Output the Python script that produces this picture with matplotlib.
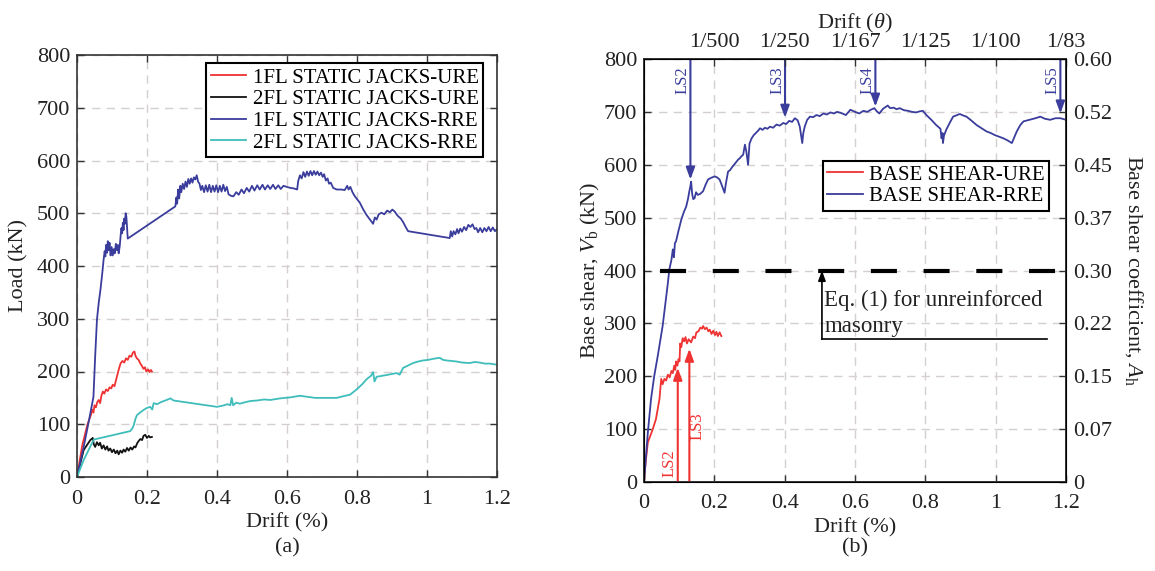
import matplotlib
matplotlib.use('Agg')
import matplotlib.pyplot as plt

plt.rcParams['font.family'] = ['Liberation Serif', 'DejaVu Serif']
plt.rcParams['mathtext.fontset'] = 'custom'
plt.rcParams['mathtext.rm'] = 'Liberation Serif'
plt.rcParams['mathtext.it'] = 'Liberation Serif:italic'
plt.rcParams['mathtext.bf'] = 'Liberation Serif:bold'

# ---------------- data: panel (a) ----------------
jacks_1fl_ure = [(0, 0), (0.015, 60), (0.03, 100), (0.04, 118), (0.043, 128), (0.047, 122), (0.05, 136),
                 (0.054, 132), (0.058, 142), (0.062, 146), (0.066, 140), (0.07, 155), (0.074, 162),
                 (0.078, 158), (0.083, 166), (0.088, 163), (0.093, 170), (0.098, 168), (0.102, 175),
                 (0.107, 172), (0.112, 185), (0.117, 198), (0.121, 208), (0.125, 216), (0.13, 220),
                 (0.135, 217), (0.14, 225), (0.145, 222), (0.15, 230), (0.155, 228), (0.16, 236),
                 (0.164, 238), (0.167, 230), (0.171, 225), (0.176, 222), (0.181, 215), (0.186, 210),
                 (0.19, 205), (0.194, 208), (0.198, 200), (0.203, 204), (0.207, 199), (0.211, 203), (0.214, 200)]
jacks_2fl_ure = [(0, 0), (0.019, 51), (0.03, 62), (0.038, 70), (0.045, 74), (0.048, 62), (0.052, 57),
                 (0.057, 66), (0.062, 60), (0.066, 65), (0.071, 54), (0.076, 60), (0.081, 52), (0.086, 58),
                 (0.09, 50), (0.095, 54), (0.1, 47), (0.105, 52), (0.11, 45), (0.115, 50), (0.119, 43),
                 (0.124, 50), (0.129, 46), (0.133, 52), (0.138, 48), (0.143, 55), (0.148, 50), (0.153, 56),
                 (0.158, 52), (0.163, 58), (0.167, 56), (0.172, 64), (0.176, 68), (0.181, 72), (0.186, 70),
                 (0.19, 78), (0.195, 80), (0.2, 74), (0.205, 78), (0.209, 75), (0.214, 76)]
jacks_1fl_rre = [(0, 0), (0.02, 60), (0.035, 110), (0.047, 152), (0.052, 230), (0.057, 298), (0.062, 330),
                 (0.067, 355), (0.072, 385), (0.076, 412), (0.079, 428), (0.081, 418), (0.083, 440),
                 (0.086, 425), (0.088, 447), (0.09, 430), (0.093, 444), (0.096, 420), (0.099, 436),
                 (0.102, 420), (0.105, 432), (0.108, 424), (0.111, 442), (0.114, 430), (0.117, 440),
                 (0.119, 424), (0.122, 437), (0.125, 460), (0.127, 472), (0.129, 462), (0.131, 482),
                 (0.133, 468), (0.135, 490), (0.137, 480), (0.139, 500), (0.141, 494), (0.145, 452),
                 (0.281, 513), (0.284, 530), (0.286, 518), (0.289, 545), (0.292, 528), (0.295, 552),
                 (0.298, 540), (0.302, 556), (0.306, 546), (0.31, 560), (0.314, 550), (0.318, 565),
                 (0.322, 556), (0.326, 566), (0.33, 558), (0.334, 568), (0.338, 564), (0.342, 572),
                 (0.346, 560), (0.35, 556), (0.354, 544), (0.358, 552), (0.363, 540), (0.368, 553),
                 (0.373, 541), (0.378, 554), (0.383, 540), (0.388, 552), (0.393, 541), (0.398, 553),
                 (0.403, 540), (0.408, 552), (0.413, 541), (0.418, 554), (0.423, 542), (0.428, 550),
                 (0.433, 536), (0.44, 533), (0.447, 532), (0.455, 540), (0.462, 535), (0.47, 545),
                 (0.477, 538), (0.485, 548), (0.492, 541), (0.5, 552), (0.507, 543), (0.515, 553),
                 (0.522, 545), (0.53, 554), (0.537, 545), (0.545, 553), (0.552, 546), (0.56, 554),
                 (0.567, 546), (0.575, 553), (0.582, 546), (0.59, 552), (0.599, 550), (0.61, 548),
                 (0.62, 547), (0.629, 545), (0.632, 561), (0.637, 572), (0.642, 566), (0.647, 578),
                 (0.652, 569), (0.657, 579), (0.662, 571), (0.667, 580), (0.672, 572), (0.677, 580),
                 (0.682, 573), (0.687, 579), (0.692, 572), (0.697, 577), (0.702, 569), (0.706, 574),
                 (0.711, 562), (0.716, 566), (0.72, 556), (0.725, 558), (0.732, 548), (0.742, 545),
                 (0.755, 545), (0.765, 544), (0.772, 552), (0.776, 545), (0.781, 550), (0.787, 540),
                 (0.794, 532), (0.808, 520), (0.818, 507), (0.827, 497), (0.836, 489), (0.846, 480),
                 (0.851, 492), (0.856, 488), (0.862, 498), (0.87, 501), (0.878, 498), (0.886, 505),
                 (0.894, 502), (0.901, 507), (0.908, 503), (0.913, 498), (0.918, 494), (0.925, 490),
                 (0.932, 483), (0.939, 474), (0.946, 466), (1.065, 453), (1.068, 466), (1.072, 456),
                 (1.076, 466), (1.081, 460), (1.086, 470), (1.09, 462), (1.095, 471), (1.1, 465),
                 (1.106, 474), (1.112, 468), (1.118, 478), (1.124, 474), (1.13, 479), (1.136, 470),
                 (1.141, 472), (1.146, 464), (1.152, 472), (1.158, 464), (1.164, 472), (1.17, 466),
                 (1.176, 474), (1.182, 466), (1.188, 473), (1.194, 466), (1.2, 470)]
jacks_2fl_rre = [(0, 0), (0.019, 32), (0.033, 51), (0.048, 71), (0.152, 87), (0.158, 92), (0.162, 98),
                 (0.167, 110), (0.171, 117), (0.18, 122), (0.19, 127), (0.2, 131), (0.209, 133),
                 (0.215, 128), (0.219, 140), (0.229, 138), (0.24, 142), (0.252, 145), (0.267, 149),
                 (0.276, 145), (0.4, 133), (0.415, 135), (0.43, 138), (0.438, 136), (0.442, 150),
                 (0.446, 136), (0.455, 141), (0.465, 139), (0.476, 141), (0.495, 144), (0.514, 145),
                 (0.535, 147), (0.552, 146), (0.58, 149), (0.61, 151), (0.637, 154), (0.68, 150),
                 (0.742, 150), (0.76, 153), (0.78, 156), (0.799, 166), (0.815, 176), (0.827, 185),
                 (0.84, 192), (0.846, 199), (0.85, 181), (0.856, 190), (0.865, 191), (0.89, 194),
                 (0.913, 197), (0.922, 194), (0.932, 207), (0.945, 211), (0.96, 216), (0.975, 219),
                 (0.989, 221), (1.003, 222), (1.017, 224), (1.027, 225), (1.036, 226), (1.046, 222),
                 (1.055, 221), (1.07, 220), (1.084, 219), (1.1, 217), (1.122, 216), (1.136, 218),
                 (1.15, 217), (1.165, 215), (1.179, 215), (1.19, 214), (1.198, 213)]

# ---------------- data: panel (b) ----------------
base_shear_ure = [(0, 0), (0.005, 40), (0.011, 75), (0.025, 100), (0.034, 119), (0.044, 157), (0.047, 180),
                  (0.049, 195), (0.053, 185), (0.058, 195), (0.063, 192), (0.068, 203), (0.073, 198),
                  (0.078, 210), (0.082, 206), (0.086, 220), (0.089, 212), (0.091, 228), (0.095, 220),
                  (0.098, 232), (0.101, 228), (0.103, 262), (0.106, 255), (0.11, 272), (0.114, 266),
                  (0.118, 274), (0.122, 262), (0.127, 270), (0.134, 264), (0.14, 275), (0.145, 272),
                  (0.149, 283), (0.155, 285), (0.16, 292), (0.165, 290), (0.168, 295), (0.173, 289),
                  (0.178, 292), (0.183, 285), (0.187, 288), (0.192, 280), (0.197, 286), (0.202, 278),
                  (0.206, 284), (0.21, 276), (0.215, 283), (0.22, 276)]
base_shear_rre = [(0, 0), (0.011, 94), (0.02, 157), (0.029, 200), (0.039, 238), (0.053, 295), (0.068, 377),
                  (0.072, 402), (0.078, 420), (0.082, 440), (0.085, 425), (0.088, 452), (0.091, 455),
                  (0.098, 475), (0.106, 496), (0.113, 510), (0.12, 521), (0.125, 535), (0.129, 550),
                  (0.132, 560), (0.134, 568), (0.137, 545), (0.14, 535), (0.144, 537), (0.148, 548),
                  (0.153, 543), (0.16, 545), (0.168, 550), (0.175, 562), (0.182, 572), (0.19, 575),
                  (0.201, 578), (0.208, 576), (0.215, 572), (0.222, 560), (0.229, 547), (0.233, 565),
                  (0.239, 587), (0.245, 590), (0.25, 595), (0.256, 600), (0.263, 606), (0.268, 610),
                  (0.272, 612), (0.277, 616), (0.282, 619), (0.287, 638), (0.291, 625), (0.296, 600),
                  (0.3, 640), (0.306, 650), (0.312, 656), (0.318, 660), (0.324, 664), (0.33, 669),
                  (0.337, 666), (0.344, 670), (0.351, 668), (0.358, 672), (0.367, 670), (0.377, 676),
                  (0.386, 674), (0.396, 679), (0.404, 677), (0.413, 683), (0.421, 681), (0.429, 688),
                  (0.437, 684), (0.443, 672), (0.447, 655), (0.45, 641), (0.453, 660), (0.457, 672),
                  (0.464, 685), (0.472, 691), (0.481, 690), (0.49, 694), (0.5, 692), (0.51, 697),
                  (0.52, 695), (0.53, 699), (0.54, 697), (0.549, 700), (0.56, 698), (0.574, 694),
                  (0.587, 704), (0.6, 700), (0.612, 697), (0.624, 702), (0.635, 700), (0.645, 704),
                  (0.655, 707), (0.662, 701), (0.669, 697), (0.68, 706), (0.693, 712), (0.7, 707),
                  (0.71, 708), (0.718, 705), (0.727, 707), (0.74, 703), (0.751, 702), (0.762, 700),
                  (0.774, 699), (0.784, 701), (0.793, 702), (0.803, 694), (0.817, 685), (0.831, 675),
                  (0.843, 668), (0.846, 650), (0.849, 660), (0.85, 641), (0.853, 655), (0.86, 667),
                  (0.87, 680), (0.879, 691), (0.89, 694), (0.898, 696), (0.908, 693), (0.917, 691),
                  (0.932, 683), (0.946, 675), (0.96, 669), (0.974, 663), (0.986, 660), (0.998, 656),
                  (1.01, 653), (1.022, 650), (1.034, 646), (1.046, 641), (1.053, 652), (1.06, 663),
                  (1.07, 675), (1.079, 682), (1.09, 684), (1.1, 686), (1.113, 688), (1.127, 691),
                  (1.14, 687), (1.155, 685), (1.17, 688), (1.184, 688), (1.2, 685)]

load_ticks = [0, 100, 200, 300, 400, 500, 600, 700, 800]
drift_ticks = [0, 0.2, 0.4, 0.6, 0.8, 1.0, 1.2]
drift_labels = ['0', '0.2', '0.4', '0.6', '0.8', '1', '1.2']
theta_ticks = [0.2, 0.4, 0.6, 0.8, 1.0, 1.2]
theta_labels = ['1/500', '1/250', '1/167', '1/125', '1/100', '1/83']
coef_labels = ['0', '0.07', '0.15', '0.22', '0.30', '0.37', '0.45', '0.52', '0.60']

# limit-state markers (drift %, tip of arrow in kN)
ls_rre = [('LS2', 0.132, 572), ('LS3', 0.401, 689), ('LS4', 0.658, 710), ('LS5', 1.184, 697)]
ls_ure = [('LS2', 0.096, 216), ('LS3', 0.129, 252)]
code_shear = 400
eq_note_lines = ['Eq. (1) for unreinforced', 'masonry']

RED = '#f03232'
BLACK = '#111111'
BLUE = '#3a3d9c'
CYAN = '#3fbdbb'
TXT = '#222222'
GRID = '#d6cfcf'


def xy(pairs):
    return [p[0] for p in pairs], [p[1] for p in pairs]


fig = plt.figure(figsize=(11.55, 5.71), dpi=100)
axA = fig.add_axes([77 / 1155, 94 / 571, 420 / 1155, 422 / 571])
axB = fig.add_axes([644 / 1155, 89 / 571, 422 / 1155, 423 / 571])


def style(ax, top=True, right=True):
    ax.set_xlim(0, 1.2)
    ax.set_ylim(0, 800)
    ax.set_xticks(drift_ticks)
    ax.set_xticklabels(drift_labels)
    ax.set_yticks(load_ticks)
    ax.set_yticklabels([str(v) for v in load_ticks])
    ax.tick_params(direction='in', top=top, right=right, length=5, width=1,
                   labelsize=16, colors='#333333', labelcolor=TXT, pad=5)
    ax.tick_params(axis='x', pad=9)
    for s in ax.spines.values():
        s.set_color('#333333')
        s.set_linewidth(1.2)
    ax.grid(True, color=GRID, lw=1.0, linestyle=(0, (6, 4.5)))
    ax.set_axisbelow(True)
    ax.set_xlabel('Drift (%)', fontsize=16, color=TXT, labelpad=3)


LW = 1.3
# ---- panel (a) ----
style(axA)
for data, c, lab in [(jacks_1fl_ure, RED, '1FL STATIC JACKS-URE'),
                     (jacks_2fl_ure, BLACK, '2FL STATIC JACKS-URE'),
                     (jacks_1fl_rre, BLUE, '1FL STATIC JACKS-RRE'),
                     (jacks_2fl_rre, CYAN, '2FL STATIC JACKS-RRE')]:
    x, y = xy(data)
    axA.plot(x, y, color=c, lw=LW, label=lab)
axA.set_ylabel('Load (kN)', fontsize=16, color=TXT, labelpad=6)
legA = axA.legend(loc='upper right', bbox_to_anchor=(0.967, 0.98), fontsize=15, frameon=True,
                  fancybox=False, edgecolor='black', framealpha=1, handlelength=1.7,
                  handletextpad=0.3, labelspacing=0.1, borderpad=0.22, borderaxespad=0)
legA.get_frame().set_linewidth(1.5)

# ---- panel (b) ----
style(axB, top=False, right=False)
x, y = xy(base_shear_ure)
axB.plot(x, y, color=RED, lw=LW, label='BASE SHEAR-URE')
x, y = xy(base_shear_rre)
axB.plot(x, y, color=BLUE, lw=LW, label='BASE SHEAR-RRE')
axB.axhline(code_shear, color='black', lw=3, linestyle=(8.8, (6.25, 6.4)))
axB.set_ylabel(r'Base shear, $V_\mathrm{b}$ (kN)', fontsize=16, color=TXT, labelpad=1)
legB = axB.legend(loc='upper right', bbox_to_anchor=(0.96, 0.76), fontsize=15, frameon=True,
                  fancybox=False, edgecolor='black', framealpha=1, handlelength=1.7,
                  handletextpad=0.3, labelspacing=0.1, borderpad=0.22, borderaxespad=0)
legB.get_frame().set_linewidth(1.5)

ARROW = '-|>,head_length=0.6,head_width=0.22'
for name, xd, tip in ls_rre:
    axB.annotate('', xy=(xd, tip), xytext=(xd, 800),
                 arrowprops=dict(arrowstyle=ARROW, color=BLUE, lw=1.5, shrinkA=0, shrinkB=0,
                                 mutation_scale=12))
    axB.text(xd - 0.022, 760, name, rotation=90, color=BLUE, fontsize=12, ha='center', va='center')
for name, xd, tip in ls_ure:
    axB.annotate('', xy=(xd, tip), xytext=(xd, 0),
                 arrowprops=dict(arrowstyle=ARROW, color=RED, lw=1.5, shrinkA=0, shrinkB=0,
                                 mutation_scale=12))
ure_label_pos = [(0.072, 36), (0.153, 106)]
for (name, xd, tip), (lx, ly) in zip(ls_ure, ure_label_pos):
    axB.text(lx, ly, name, rotation=90, color=RED, fontsize=12, ha='center', va='center')

# note for code-level shear
note_x, note_y, note_end = 0.506, 270, 1.146
axB.annotate('', xy=(note_x, code_shear), xytext=(note_x, note_y),
             arrowprops=dict(arrowstyle='-|>,head_length=0.6,head_width=0.22', color='black',
                             lw=1.2, shrinkA=0, shrinkB=0, mutation_scale=10))
axB.plot([note_x, note_end], [note_y, note_y], color='black', lw=1.2)
axB.text(0.513, 333, eq_note_lines[0], fontsize=16.5, color=TXT, ha='left', va='baseline')
axB.text(0.513, 283, eq_note_lines[1], fontsize=16.5, color=TXT, ha='left', va='baseline')

# right axis: base shear coefficient
axR = axB.twinx()
axR.set_ylim(0, 800)
axR.set_yticks(load_ticks)
axR.set_yticklabels(coef_labels)
axR.tick_params(direction='in', length=5, width=1, labelsize=16, colors='#333333', labelcolor=TXT, pad=5)
axR.set_ylabel(r'Base shear coefficient, $A_\mathrm{h}$', fontsize=16, color=TXT, rotation=-90,
               labelpad=24)
for s in axR.spines.values():
    s.set_color('#333333')
    s.set_linewidth(1.2)

# top axis: drift ratio
axT = axB.twiny()
axT.set_xlim(0, 1.2)
axT.set_xticks(theta_ticks)
axT.set_xticklabels(theta_labels)
axT.tick_params(direction='in', length=5, width=1, labelsize=16, colors='#333333', labelcolor=TXT, pad=5)
axT.set_xlabel(r'Drift ($\theta$)', fontsize=16, color=TXT, labelpad=3)

fig.text(287 / 1155, 1 - 548 / 571, '(a)', fontsize=16, color=TXT, ha='center', va='center')
fig.text(855 / 1155, 1 - 548 / 571, '(b)', fontsize=16, color=TXT, ha='center', va='center')

fig.savefig('out.png', dpi=100)
